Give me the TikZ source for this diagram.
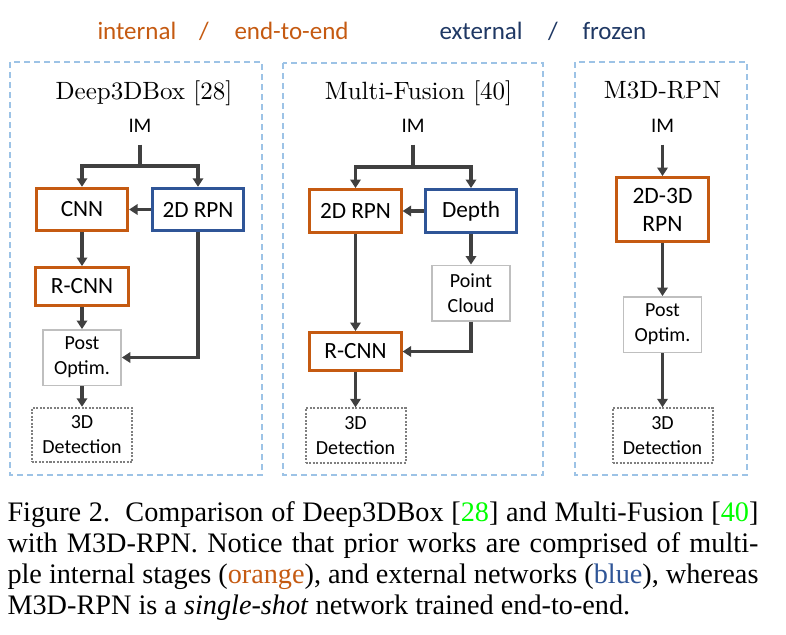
\documentclass[tikz,border=0pt]{standalone}
\usepackage{fontspec}
\usepackage{tikz}
\usetikzlibrary{arrows.meta, calc}
\newfontfamily\calfont{Carlito}
\newfontfamily\capfont{Liberation Serif}
\definecolor{intorange}{HTML}{C55A11}
\definecolor{extblue}{HTML}{2F5597}
\definecolor{extnavy}{HTML}{1F3864}
\definecolor{panelblue}{HTML}{9DC3E6}
\definecolor{arrowgray}{HTML}{404040}
\definecolor{postgray}{HTML}{BFBFBF}
\definecolor{detgray}{HTML}{7F7F7F}
\definecolor{refgreen}{HTML}{00FF00}

\begin{document}
\begin{tikzpicture}[x=0.4pt, y=-0.4pt,
    intbox/.style={draw=intorange, line width=1.2pt, font={\calfont\fontsize{9.3}{11.3}\selectfont},
        minimum width=36.5pt, minimum height=17pt, inner sep=0pt, align=center},
    extbox/.style={intbox, draw=extblue},
    postbox/.style={draw=postgray, line width=0.6pt, font={\calfont\fontsize{8}{10}\selectfont},
        minimum width=31.3pt, minimum height=22.2pt, inner sep=0pt, align=center},
    detbox/.style={draw=detgray, line width=0.8pt, dash pattern=on 0.8pt off 0.6pt,
        font={\calfont\fontsize{8}{10}\selectfont}, minimum width=40pt, minimum height=21.8pt,
        inner sep=0pt, align=center},
    imlabel/.style={font={\calfont\fontsize{8.3}{10}\selectfont}, inner xsep=0pt, inner ysep=4.6pt},
    link/.style={draw=arrowgray, line width=1.3pt},
    flow/.style={link, -{Triangle[length=3.4pt, width=4.2pt]}},
    panel/.style={draw=panelblue, line width=0.6pt, dash pattern=on 2.4pt off 1.6pt},
    title/.style={font={\fontsize{10}{12}\selectfont}, anchor=base},
    legend/.style={font={\calfont\fontsize{10}{12}\selectfont}, anchor=base west, inner sep=0pt}
]
    \useasboundingbox (0,0) rectangle (786,634);

    \node[legend, text=intorange] (lgInt) at (97,39) {internal};
    \node[legend, text=intorange, anchor=base] (lgSlashA) at (204,39) {/};
    \node[legend, text=intorange] (lgE2E) at (234,39) {end-to-end};
    \node[legend, text=extnavy] (lgExt) at (439,39) {external};
    \node[legend, text=extnavy, anchor=base] (lgSlashB) at (553,39) {/};
    \node[legend, text=extnavy] (lgFrz) at (582,39) {frozen};

    \draw[panel] (10,62) rectangle (262,475);
    \draw[panel] (283,63) rectangle (543,475);
    \draw[panel] (575,62) rectangle (747,475);

    \node[title] (titleA) at (144,99) {Deep3DBox [28]};
    \node[title] (titleB) at (418.5,99) {Multi-Fusion [40]};
    \node[title] (titleC) at (662.5,98) {M3D-RPN};

    \node[imlabel] (imA) at (140,126) {IM};
    \coordinate (splitA) at (140,166);
    \node[intbox] (cnnA) at (82,209.5) {CNN};
    \node[extbox] (rpnA) at (198,209.5) {2D RPN};
    \node[intbox, minimum height=15.2pt, minimum width=37.2pt] (rcnnA) at (82,286.5) {R-CNN};
    \node[postbox] (postA) at (82,357.5) {Post\\Optim.};
    \node[detbox] (detA) at (82,435) {3D\\Detection};

    \draw[link] (imA.south) -- (splitA);
    \draw[flow] (splitA) -| (cnnA.north);
    \draw[flow] (splitA) -| (rpnA.north);
    \draw[flow] (rpnA) -- (cnnA);
    \draw[flow] (cnnA) -- (rcnnA);
    \draw[flow] (rcnnA) -- (postA);
    \draw[flow] (rpnA) |- (postA);
    \draw[flow] (postA) -- (detA);

    \node[imlabel] (imB) at (413,126) {IM};
    \coordinate (splitB) at (413,167);
    \node[intbox, minimum height=17.2pt] (rpnB) at (355.5,211) {2D RPN};
    \node[extbox, minimum height=17.2pt] (depthB) at (471,211) {Depth};
    \node[postbox] (cloudB) at (471,293) {Point\\Cloud};
    \node[intbox, minimum height=15.2pt] (rcnnB) at (355.5,351.5) {R-CNN};
    \node[detbox] (detB) at (355.5,435.5) {3D\\Detection};

    \draw[link] (imB.south) -- (splitB);
    \draw[flow] (splitB) -| (rpnB.north);
    \draw[flow] (splitB) -| (depthB.north);
    \draw[flow] (depthB) -- (rpnB);
    \draw[flow] (depthB) -- (cloudB);
    \draw[flow] (rpnB) -- (rcnnB);
    \draw[flow] (cloudB) |- (rcnnB);
    \draw[flow] (rcnnB) -- (detB);

    \node[imlabel] (imC) at (662.5,126) {IM};
    \node[intbox, minimum height=25.6pt, font={\calfont\fontsize{9.4}{11.3}\selectfont}] (rpnC) at (662.5,209.5) {2D-3D\\RPN};
    \node[postbox] (postC) at (662.5,324.5) {Post\\Optim.};
    \node[detbox] (detC) at (662.5,435.5) {3D\\Detection};

    \draw[flow] (imC) -- (rpnC);
    \draw[flow] (rpnC) -- (postC);
    \draw[flow] (postC) -- (detC);

    \node[anchor=north west, inner sep=0pt, text width=300.4pt, align=justify,
        font={\capfont\fontsize{11.3}{12.4}\selectfont}] (caption) at (7,501)
        {Figure 2.\ \ Comparison of Deep3DBox [\textcolor{refgreen}{28}] and Multi-Fusion [\textcolor{refgreen}{40}]\linebreak
        with M3D-RPN. Notice that prior works are comprised of multi-\linebreak ple internal stages (\textcolor{intorange}{orange}), and external networks (\textcolor{extblue}{blue}), whereas\linebreak
        M3D-RPN is a \textit{single-shot} network trained end-to-end.};
\end{tikzpicture}
\end{document}
